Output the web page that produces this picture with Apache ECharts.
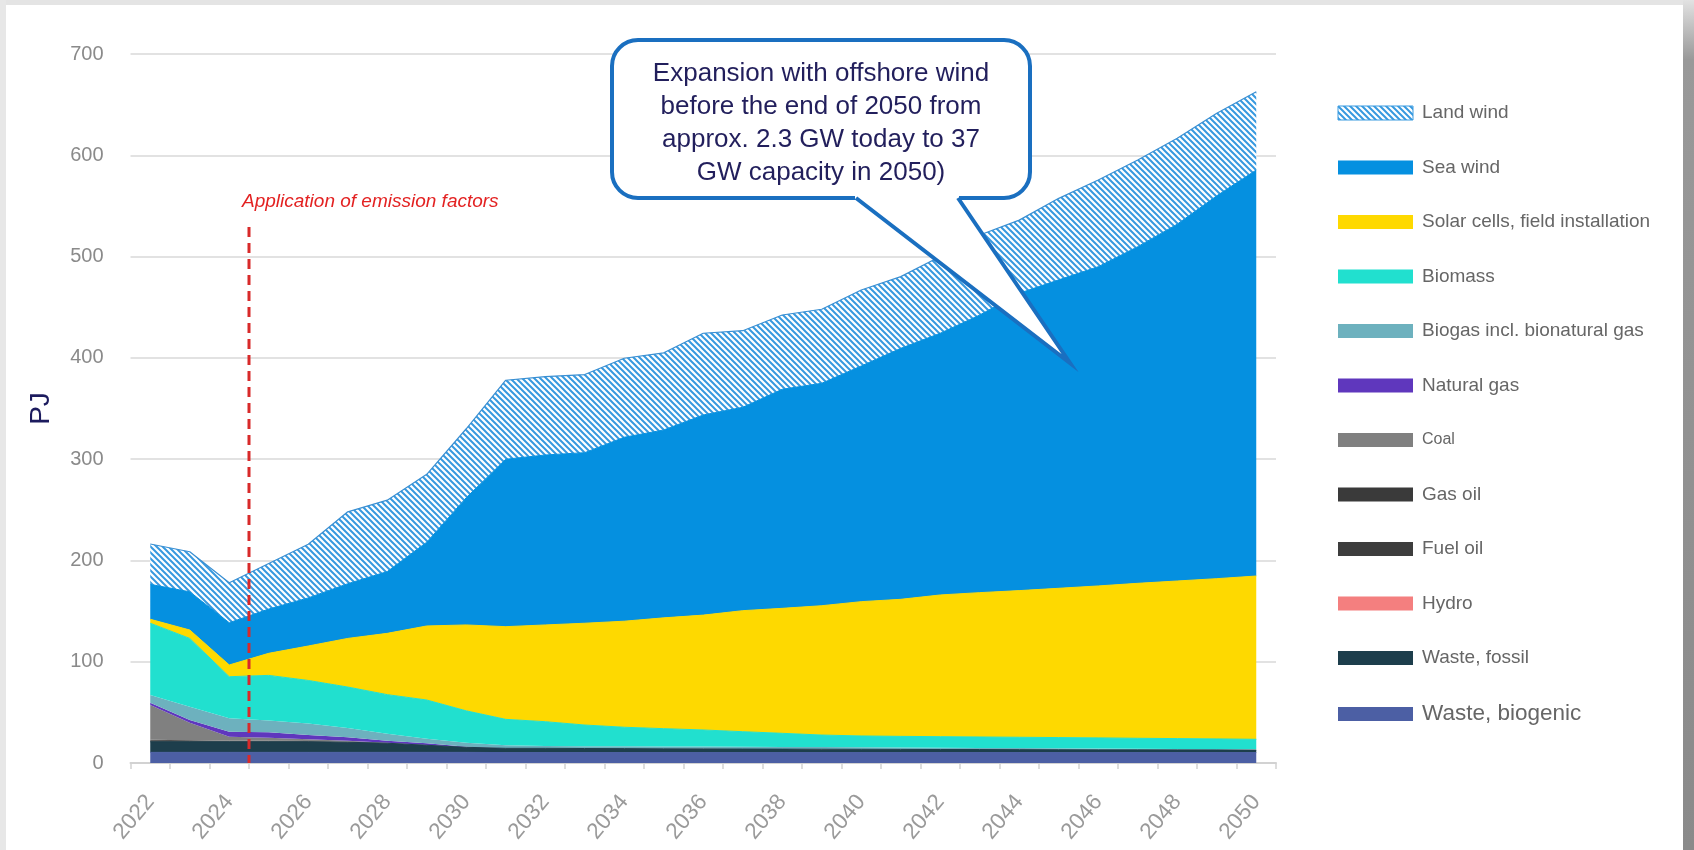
<!DOCTYPE html>
<html>
<head>
<meta charset="utf-8">
<title>Electricity production by source, PJ</title>
<script src="https://cdn.jsdelivr.net/npm/echarts@6/dist/echarts.min.js"></script>
<style>
  html, body { margin: 0; padding: 0; background: #ffffff; }
  #chart { width: 1694px; height: 850px; }
</style>
</head>
<body>
<div id="chart"></div>
<script>
// Years on the category axis
const years = ['2022','2023','2024','2025','2026','2027','2028','2029','2030','2031','2032','2033','2034','2035','2036','2037','2038','2039','2040','2041','2042','2043','2044','2045','2046','2047','2048','2049','2050'];

// Production per source (PJ), stacked from the bottom up
const wasteBiogenic = [10.5,10.5,10.5,10.5,10.5,10.5,10.5,10.5,10.5,10.3,10.3,10.3,10.3,10.3,10.3,10.3,10.3,10.3,10.3,10.3,10.3,10.3,10.3,10.3,10.3,10.3,10.3,10.3,10.3];
const wasteFossil   = [10.5,10.5,10.5,10.5,10.5,10.0,9.0,7.0,5.0,4.2,4.2,4.0,3.9,3.7,3.6,3.5,3.4,3.3,3.2,3.1,3.0,3.0,2.9,2.8,2.7,2.7,2.6,2.5,2.5];
const hydro         = [0.1,0.1,0.1,0.1,0.1,0.1,0.1,0.1,0.1,0.1,0.1,0.1,0.1,0.1,0.1,0.1,0.1,0.1,0.1,0.1,0.1,0.1,0.1,0.1,0.1,0.1,0.1,0.1,0.1];
const fuelOil       = [0.8,0.5,0.3,0.3,0.2,0.2,0.1,0,0,0,0,0,0,0,0,0,0,0,0,0,0,0,0,0,0,0,0,0,0];
const gasOil        = [1.0,0.8,0.5,0.5,0.4,0.3,0.2,0.1,0,0,0,0,0,0,0,0,0,0,0,0,0,0,0,0,0,0,0,0,0];
const coal          = [34.4,17.4,4.1,3.1,1.8,0.9,0.1,0,0,0,0,0,0,0,0,0,0,0,0,0,0,0,0,0,0,0,0,0,0];
const naturalGas    = [2.2,2.7,4.9,5.3,4.1,3.4,2.0,1.7,0.4,0,0,0,0,0,0,0,0,0,0,0,0,0,0,0,0,0,0,0,0];
const biogas        = [7.6,13.1,13.2,11.7,11.4,9.1,7.0,4.6,4.0,2.9,2.2,2.2,2.2,2.3,2.2,2.1,2.0,2.0,1.9,1.8,1.7,1.5,1.4,1.3,1.2,1.0,0.9,0.8,0.6];
const biomass       = [70.9,67.4,41.1,44.5,42.5,40.5,38.5,38.2,31.5,25.6,24.0,20.9,18.8,17.5,16.4,14.9,13.5,11.9,11.2,11.0,10.9,10.8,10.7,10.6,10.5,10.3,10.2,10.1,9.9];
const solar         = [3.9,8.3,11.6,21.8,34.0,48.0,60.5,73.1,84.8,91.5,95.5,100.5,104.7,109.4,113.4,119.5,123.4,127.7,132.6,135.3,139.9,142.5,144.8,147.4,150.0,153.0,155.6,158.2,161.2];
const seaWind       = [34.5,37.7,41.7,43.7,47.5,54.0,61.0,82.7,125.7,165.3,167.8,168.4,181.6,185.5,197.6,200.8,216.3,219.6,232.7,247.8,258.4,274.1,293.6,304.5,315.2,332.4,352.3,378.0,400.9];
const landWind      = [39.8,39.6,39.5,45.0,53.0,71.0,70.5,67.0,68.0,78.0,77.3,77.1,78.0,76.2,80.7,75.6,73.3,73.1,75.0,70.8,75.7,79.0,72.2,80.5,85.6,85.6,84.8,81.5,77.3];

// Y axis ticks
const yTicks = { min: 0, max: 700, step: 100 };

const FONT = '"Liberation Sans", Arial, sans-serif';

// Diagonal hatch used for onshore wind
function makeHatch() {
  const c = document.createElement('canvas');
  c.width = 6; c.height = 6;
  const g = c.getContext('2d');
  g.fillStyle = '#ffffff';
  g.fillRect(0, 0, 6, 6);
  g.strokeStyle = '#3799df';
  g.lineWidth = 2;
  g.beginPath();
  g.moveTo(-1, -1); g.lineTo(7, 7);
  g.moveTo(-7, -1); g.lineTo(1, 7);
  g.moveTo(5, -1); g.lineTo(13, 7);
  g.stroke();
  return c;
}
const hatch = { image: makeHatch(), repeat: 'repeat' };

// Stack layers, bottom first
const layers = [
  { name: 'Waste, biogenic', data: wasteBiogenic, color: '#4c5fa4', edge: 1 },
  { name: 'Waste, fossil', data: wasteFossil, color: '#1d3e4c', edge: 1 },
  { name: 'Hydro', data: hydro, color: '#f47f7f', edge: 0 },
  { name: 'Fuel oil', data: fuelOil, color: '#3d3d3d', edge: 0 },
  { name: 'Gas oil', data: gasOil, color: '#3a3a3a', edge: 0 },
  { name: 'Coal', data: coal, color: '#808080', edge: 0 },
  { name: 'Natural gas', data: naturalGas, color: '#5f37bd', edge: 0 },
  { name: 'Biogas incl. bionatural gas', data: biogas, color: '#6db1be', edge: 0 },
  { name: 'Biomass', data: biomass, color: '#21e0cf', edge: 1 },
  { name: 'Solar cells, field installation', data: solar, color: '#fed900', edge: 1 },
  { name: 'Sea wind', data: seaWind, color: '#0590e0', edge: 1 },
  { name: 'Land wind', data: landWind, color: hatch, edge: 1.2, edgeColor: '#3a8fd2' }
];

const series = layers.map(l => ({
  name: l.name,
  type: 'line',
  stack: 'total',
  data: l.data,
  symbol: 'none',
  showSymbol: false,
  smooth: false,
  silent: true,
  lineStyle: { width: l.edge, color: l.edgeColor || (typeof l.color === 'string' ? l.color : '#3a8fd2') },
  itemStyle: { color: l.color },
  areaStyle: { color: l.color, opacity: 1 },
  emphasis: { disabled: true }
}));

const colorOf = {};
layers.forEach(l => { colorOf[l.name] = l.color; });

// Legend order top to bottom, with per-entry text sizes
const legendOrder = [
  ['Land wind', 19], ['Sea wind', 19], ['Solar cells, field installation', 19], ['Biomass', 19],
  ['Biogas incl. bionatural gas', 19], ['Natural gas', 19], ['Coal', 16], ['Gas oil', 19],
  ['Fuel oil', 19], ['Hydro', 19], ['Waste, fossil', 19], ['Waste, biogenic', 22.5]
];

const chart = echarts.init(document.getElementById('chart'), null, { renderer: 'canvas' });

chart.setOption({
  animation: false,
  backgroundColor: '#ffffff',
  textStyle: { fontFamily: FONT },
  grid: { left: 130.5, right: 418, top: 54, bottom: 87, containLabel: false, outerBoundsMode: 'none' },
  legend: {
    orient: 'vertical',
    left: 1332.5,
    top: 98,
    itemWidth: 75,
    itemHeight: 14,
    itemGap: 34.5,
    icon: 'rect',
    selectedMode: false,
    textStyle: { color: '#666666', fontSize: 19, lineHeight: 20, fontFamily: FONT, padding: [0, 0, 0, 4] },
    data: legendOrder.map(([name, size]) => ({
      name: name,
      icon: 'rect',
      itemStyle: name === 'Land wind'
        ? { color: hatch, borderColor: '#3a9be0', borderWidth: 1 }
        : { color: colorOf[name], borderWidth: 0 },
      textStyle: { fontSize: size }
    }))
  },
  xAxis: {
    type: 'category',
    data: years,
    boundaryGap: true,
    axisLine: { show: true, lineStyle: { color: '#d2d2d2', width: 2 } },
    axisTick: { show: true, interval: 0, alignWithLabel: false, length: 6, lineStyle: { color: '#d2d2d2', width: 1.5 } },
    axisLabel: { interval: 1, rotate: 50, margin: 35, color: '#9a9a9a', fontSize: 22.5, fontFamily: FONT },
    splitLine: { show: false }
  },
  yAxis: {
    type: 'value',
    min: yTicks.min,
    max: yTicks.max,
    interval: yTicks.step,
    name: 'PJ',
    nameLocation: 'middle',
    nameRotate: 90,
    nameGap: 75,
    nameTextStyle: { color: '#1c1b5e', fontSize: 28, fontFamily: FONT },
    axisLine: { show: false },
    axisTick: { show: false },
    axisLabel: { color: '#8a8a8a', fontSize: 20, margin: 27, fontFamily: FONT },
    splitLine: { show: true, lineStyle: { color: '#d9d9d9', width: 1.5 } }
  },
  series: series
});

// Annotation layer: policy marker line and callout
const xA = chart.convertToPixel({ xAxisIndex: 0 }, '2024');
const xB = chart.convertToPixel({ xAxisIndex: 0 }, '2025');
const markerX = (xA + xB) / 2;
const yZero = chart.convertToPixel({ yAxisIndex: 0 }, 0);

const calloutStroke = '#1a6fc0';
const box = { x: 612, y: 40, w: 418, h: 158, r: 26 };
const tailL = [856, 198], tailR = [958, 198], tailTip = [1070, 363];

chart.setOption({
  graphic: [
    // page frame
    { type: 'rect', shape: { x: 0, y: 0, width: 1694, height: 5 }, style: { fill: '#e4e4e4' }, silent: true, z: 1 },
    { type: 'rect', shape: { x: 0, y: 0, width: 6, height: 850 }, style: { fill: '#e7e7e7' }, silent: true, z: 1 },
    { type: 'rect', shape: { x: 1683, y: 0, width: 11, height: 850 }, silent: true, z: 1,
      style: { fill: new echarts.graphic.LinearGradient(0, 0, 0, 1, [
        { offset: 0, color: '#e2e2e2' }, { offset: 0.07, color: '#999999' }, { offset: 1, color: '#8a8a8a' }
      ]) } },

    // emission factor marker
    { type: 'line', silent: true, z: 10,
      shape: { x1: markerX, y1: 227, x2: markerX, y2: yZero },
      style: { stroke: '#d82a2a', lineWidth: 3, lineDash: [10, 6] } },
    { type: 'text', silent: true, z: 10, x: 242, y: 202,
      style: { text: 'Application of emission factors', fill: '#e32222', fontSize: 19, fontStyle: 'italic',
               fontFamily: FONT, align: 'left', verticalAlign: 'middle' } },

    // callout box
    { type: 'rect', silent: true, z: 20,
      shape: { x: box.x, y: box.y, width: box.w, height: box.h, r: box.r },
      style: { fill: '#ffffff', stroke: calloutStroke, lineWidth: 4 } },
    { type: 'text', silent: true, z: 23, x: 821, y: 123,
      style: { text: 'Expansion with offshore wind\nbefore the end of 2050 from\napprox. 2.3 GW today to 37\nGW capacity in 2050)',
               fill: '#221f5c', fontSize: 26, lineHeight: 33, fontFamily: FONT, align: 'center', verticalAlign: 'middle' } }
  ]
});

// Callout tail: white wedge over the plot with a blue outline
const zr = chart.getZr();
zr.add(new echarts.graphic.Polygon({
  silent: true, z: 100, zlevel: 0,
  shape: { points: [[tailL[0] - 1, 194], [tailR[0] + 1, 194], [tailR[0] + 1, 199], tailTip.slice(), [tailL[0] - 1, 199]] },
  style: { fill: '#ffffff', stroke: null }
}));
zr.add(new echarts.graphic.Polyline({
  silent: true, z: 101, zlevel: 0,
  shape: { points: [tailL.slice(), tailTip.slice(), tailR.slice()] },
  style: { stroke: calloutStroke, lineWidth: 4, lineJoin: 'miter', fill: null }
}));
</script>
</body>
</html>
